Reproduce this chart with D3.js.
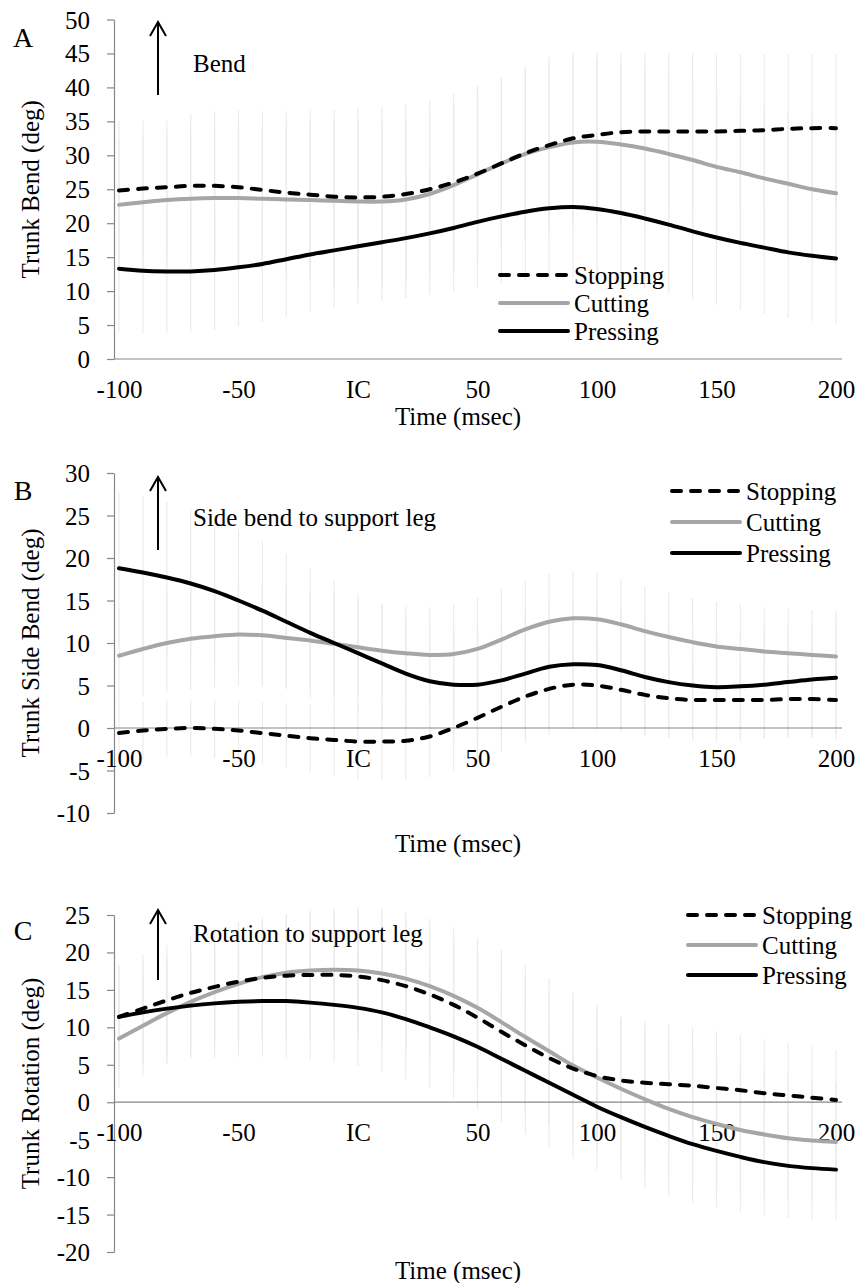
<!DOCTYPE html>
<html>
<head>
<meta charset="utf-8">
<script src="https://cdn.jsdelivr.net/npm/d3@7"></script>
<style>
  html, body { margin: 0; padding: 0; background: #fff; }
  svg { display: block; }
  text { font-family: "Liberation Serif", "Times New Roman", serif; fill: #000; }
</style>
</head>
<body>
<svg id="fig" width="861" height="1283"></svg>
<script>
// Time samples (msec relative to initial contact)
const times = [-100,-90,-80,-70,-60,-50,-40,-30,-20,-10,0,10,20,30,40,50,60,70,80,90,100,110,120,130,140,150,160,170,180,190,200];
const xTickValues = [-100,-50,0,50,100,150,200];
const xTickLabels = ["-100","-50","IC","50","100","150","200"];
const seriesNames = ["Stopping","Cutting","Pressing"];

// Trunk bend (deg)
const bendStopping = [24.8,25.1,25.3,25.5,25.5,25.3,24.9,24.5,24.2,23.9,23.8,23.9,24.3,25.0,26.0,27.3,28.8,30.3,31.5,32.5,33.0,33.4,33.5,33.5,33.5,33.5,33.6,33.7,33.9,34.0,34.0];
const bendCutting  = [22.7,23.1,23.4,23.6,23.7,23.7,23.6,23.5,23.4,23.3,23.2,23.2,23.5,24.3,25.6,27.2,28.8,30.2,31.2,31.9,32.0,31.6,31.0,30.2,29.3,28.3,27.5,26.6,25.8,25.0,24.4];
const bendPressing = [13.3,13.0,12.9,12.9,13.1,13.5,14.0,14.7,15.4,16.0,16.6,17.2,17.8,18.5,19.3,20.2,21.0,21.7,22.2,22.4,22.1,21.5,20.7,19.8,18.8,17.9,17.1,16.4,15.7,15.2,14.8];
const bendStoppingSD = [10.2,10.0,9.8,10.5,11.0,11.3,11.6,12.0,12.4,12.8,13.2,13.3,13.2,13.1,13.0,12.9,12.7,12.8,13.0,12.5,12.0,11.6,11.5,11.5,11.5,11.5,11.4,11.3,11.1,11.0,11.0];
const bendCuttingSD  = [9.5,9.6,9.8,10.0,10.3,10.5,10.8,11.0,11.2,11.4,11.5,11.6,11.8,12.0,12.2,12.4,12.5,12.5,12.4,12.2,12.0,11.8,11.6,11.4,11.2,11.0,10.8,10.6,10.5,10.4,10.3];
const bendPressingSD = [9.3,9.2,9.0,8.9,8.8,8.7,8.6,8.5,8.4,8.4,8.5,8.6,8.8,9.0,9.3,9.6,9.9,10.1,10.3,10.4,10.4,10.3,10.2,10.1,10.0,9.9,9.8,9.7,9.7,9.6,9.6];
const bendTicks = [0,5,10,15,20,25,30,35,40,45,50];

// Trunk side bend (deg)
const sideStopping = [-0.6,-0.3,-0.1,0.0,-0.1,-0.3,-0.6,-0.9,-1.2,-1.4,-1.6,-1.6,-1.5,-1.0,0.0,1.2,2.5,3.7,4.6,5.1,5.0,4.5,3.9,3.5,3.3,3.3,3.3,3.3,3.4,3.4,3.3];
const sideCutting  = [8.5,9.3,10.0,10.5,10.8,11.0,10.9,10.6,10.3,9.9,9.5,9.1,8.8,8.6,8.7,9.3,10.4,11.6,12.5,12.9,12.8,12.2,11.4,10.7,10.1,9.6,9.3,9.0,8.8,8.6,8.4];
const sidePressing = [18.8,18.3,17.7,17.0,16.1,15.0,13.8,12.5,11.2,10.0,8.8,7.6,6.4,5.5,5.1,5.1,5.6,6.4,7.2,7.5,7.4,6.8,6.0,5.4,5.0,4.8,4.9,5.1,5.4,5.7,5.9];
const sideStoppingSD = [3.5,3.4,3.3,3.3,3.4,3.5,3.6,3.8,4.0,4.2,4.4,4.5,4.6,4.8,5.0,5.2,5.3,5.4,5.4,5.3,5.2,5.0,4.8,4.6,4.5,4.5,4.5,4.5,4.6,4.6,4.7];
const sideCuttingSD  = [5.5,5.6,5.8,6.0,6.0,6.0,6.0,5.9,5.8,5.7,5.6,5.5,5.5,5.6,5.8,6.0,6.0,5.8,5.6,5.5,5.5,5.4,5.3,5.2,5.2,5.2,5.2,5.2,5.3,5.3,5.4];
const sidePressingSD = [9.0,9.0,8.9,8.8,8.6,8.4,8.2,7.9,7.6,7.3,7.0,6.8,6.6,6.5,6.5,6.6,6.8,7.0,7.2,7.2,7.1,7.0,6.8,6.6,6.5,6.4,6.4,6.4,6.4,6.5,6.5];
const sideTicks = [-10,-5,0,5,10,15,20,25,30];

// Trunk rotation (deg)
const rotStopping = [11.4,12.5,13.6,14.6,15.4,16.1,16.6,16.9,17.0,17.0,16.8,16.3,15.5,14.4,13.0,11.3,9.4,7.6,5.9,4.5,3.5,2.9,2.6,2.4,2.2,1.9,1.6,1.2,0.9,0.6,0.3];
const rotCutting  = [8.5,10.2,11.9,13.4,14.7,15.8,16.7,17.3,17.6,17.7,17.6,17.2,16.5,15.5,14.2,12.6,10.7,8.7,6.8,4.9,3.3,1.8,0.4,-0.9,-2.0,-2.9,-3.7,-4.3,-4.8,-5.1,-5.3];
const rotPressing = [11.4,12.0,12.5,12.9,13.2,13.4,13.5,13.5,13.3,13.0,12.6,12.0,11.1,10.0,8.8,7.4,5.8,4.2,2.6,1.0,-0.6,-2.0,-3.3,-4.5,-5.6,-6.5,-7.3,-8.0,-8.5,-8.8,-9.0];
const rotStoppingSD = [7.0,7.2,7.4,7.6,7.8,8.0,8.1,8.2,8.3,8.4,8.5,8.6,8.7,8.8,8.9,9.0,9.0,9.0,8.9,8.8,8.6,8.4,8.2,8.0,7.8,7.6,7.4,7.2,7.0,6.8,6.6];
const rotCuttingSD  = [6.5,6.6,6.8,7.0,7.2,7.4,7.6,7.8,8.0,8.2,8.4,8.6,8.8,9.0,9.2,9.4,9.6,9.7,9.8,9.8,9.7,9.6,9.4,9.2,9.0,8.8,8.6,8.4,8.2,8.0,7.8];
const rotPressingSD = [6.8,6.9,7.0,7.1,7.2,7.3,7.4,7.5,7.6,7.7,7.8,7.9,8.0,8.1,8.2,8.3,8.4,8.5,8.5,8.5,8.4,8.3,8.2,8.0,7.8,7.6,7.4,7.2,7.0,6.8,6.6];
const rotTicks = [-20,-15,-10,-5,0,5,10,15,20,25];

// Line styles per series
const seriesStyle = {
  Stopping: { color: "#000000", dash: "9,10" },
  Cutting:  { color: "#a6a6a6", dash: null },
  Pressing: { color: "#000000", dash: null }
};

const svg = d3.select("#fig");
const FONT = 25;
const SERIF = "'Liberation Serif', 'Times New Roman', serif";
const axisColor = "#878787";

// Shared horizontal layout
const plotLeft = 114, plotRight = 842;
const x = d3.scaleLinear().domain([-100, 200]).range([119, 836]);

const panels = [
  {
    letter: "A", yTitle: "Trunk Bend (deg)", note: "Bend",
    ticks: bendTicks, yTop: 19.5, yBottom: 359,
    series: [bendStopping, bendCutting, bendPressing],
    sd: [bendStoppingSD, bendCuttingSD, bendPressingSD],
    letterY: 37, arrowTop: 22, arrowBottom: 95, noteY: 63,
    legendX: 498, legendY: 275, legendStep: 28,
    timeY: 416
  },
  {
    letter: "B", yTitle: "Trunk Side Bend (deg)", note: "Side bend to support leg",
    ticks: sideTicks, yTop: 473, yBottom: 813,
    series: [sideStopping, sideCutting, sidePressing],
    sd: [sideStoppingSD, sideCuttingSD, sidePressingSD],
    letterY: 490, arrowTop: 477, arrowBottom: 550, noteY: 517,
    legendX: 670, legendY: 491, legendStep: 31,
    timeY: 843
  },
  {
    letter: "C", yTitle: "Trunk Rotation (deg)", note: "Rotation to support leg",
    ticks: rotTicks, yTop: 915, yBottom: 1252,
    series: [rotStopping, rotCutting, rotPressing],
    sd: [rotStoppingSD, rotCuttingSD, rotPressingSD],
    letterY: 930, arrowTop: 910, arrowBottom: 980, noteY: 933,
    legendX: 686, legendY: 915, legendStep: 30,
    timeY: 1270
  }
];

panels.forEach(p => {
  const g = svg.append("g");
  const ext = d3.extent(p.ticks);
  const y = d3.scaleLinear().domain(ext).range([p.yBottom, p.yTop]);

  // error bars (mean ± SD), faint
  const eb = g.append("g");
  p.series.forEach((vals, si) => {
    eb.selectAll(null)
      .data(times.map((t, i) => ({ t, m: vals[i], s: p.sd[si][i] })))
      .join("line")
      .attr("x1", d => x(d.t)).attr("x2", d => x(d.t))
      .attr("y1", d => y(d.m + d.s)).attr("y2", d => y(d.m - d.s))
      .attr("stroke", "#ebebeb").attr("stroke-width", 1.2);
  });

  // y axis
  const yAxis = d3.axisLeft(y).tickValues(p.ticks).tickSize(7).tickSizeOuter(0).tickPadding(17)
    .tickFormat(d => String(d));
  const ya = g.append("g").attr("transform", `translate(${plotLeft},0)`).call(yAxis)
    .attr("font-family", SERIF).attr("font-size", FONT);
  ya.selectAll("path, line").attr("stroke", axisColor).attr("stroke-width", 1.2);
  ya.selectAll("text").attr("fill", "#000").attr("dy", "0.34em");

  // x axis line at zero (or bottom)
  const y0 = y(Math.max(0, ext[0]));
  g.append("line")
    .attr("x1", plotLeft).attr("x2", plotRight)
    .attr("y1", y0).attr("y2", y0)
    .attr("stroke", axisColor).attr("stroke-width", 1.2);

  // x tick labels
  const xAxis = d3.axisBottom(x).tickValues(xTickValues).tickSize(0).tickPadding(21)
    .tickFormat((d, i) => xTickLabels[i]);
  const xa = g.append("g").attr("transform", `translate(0,${y0})`).call(xAxis)
    .attr("font-family", SERIF).attr("font-size", FONT);
  xa.select(".domain").remove();
  xa.selectAll("text").attr("fill", "#000");

  // series lines
  const line = d3.line().x((d, i) => x(times[i])).y(d => y(d)).curve(d3.curveCatmullRom.alpha(0.5));
  [1, 2, 0].forEach(si => {
    const st = seriesStyle[seriesNames[si]];
    g.append("path")
      .attr("d", line(p.series[si]))
      .attr("fill", "none")
      .attr("stroke", st.color)
      .attr("stroke-width", 4)
      .attr("stroke-linecap", "round")
      .attr("stroke-linejoin", "round")
      .attr("stroke-dasharray", st.dash);
  });

  // legend
  seriesNames.forEach((name, i) => {
    const st = seriesStyle[name];
    const ly = p.legendY + i * p.legendStep;
    g.append("line")
      .attr("x1", p.legendX + 2).attr("x2", p.legendX + 70)
      .attr("y1", ly).attr("y2", ly)
      .attr("stroke", st.color).attr("stroke-width", 4)
      .attr("stroke-linecap", "round")
      .attr("stroke-dasharray", st.dash);
    g.append("text")
      .attr("x", p.legendX + 76).attr("y", ly).attr("dy", "0.34em")
      .style("font-size", FONT + "px").text(name);
  });

  // y title
  g.append("text")
    .attr("transform", `translate(30,${(p.yTop + p.yBottom) / 2}) rotate(-90)`)
    .attr("text-anchor", "middle").attr("dy", "0.34em")
    .style("font-size", FONT + "px").text(p.yTitle);

  // x title
  g.append("text")
    .attr("x", 458).attr("y", p.timeY).attr("dy", "0.34em")
    .attr("text-anchor", "middle")
    .style("font-size", FONT + "px").text("Time (msec)");

  // panel letter
  g.append("text")
    .attr("x", 23).attr("y", p.letterY).attr("dy", "0.34em")
    .attr("text-anchor", "middle")
    .style("font-size", "28px").text(p.letter);

  // direction arrow and note
  const ax = 158;
  g.append("line").attr("x1", ax).attr("x2", ax)
    .attr("y1", p.arrowTop + 1).attr("y2", p.arrowBottom)
    .attr("stroke", "#000").attr("stroke-width", 2);
  g.append("path")
    .attr("d", `M${ax - 8},${p.arrowTop + 14} L${ax},${p.arrowTop} L${ax + 8},${p.arrowTop + 14}`)
    .attr("fill", "none").attr("stroke", "#000").attr("stroke-width", 2);
  g.append("text")
    .attr("x", 193).attr("y", p.noteY).attr("dy", "0.34em")
    .style("font-size", FONT + "px").text(p.note);
});
</script>
</body>
</html>
